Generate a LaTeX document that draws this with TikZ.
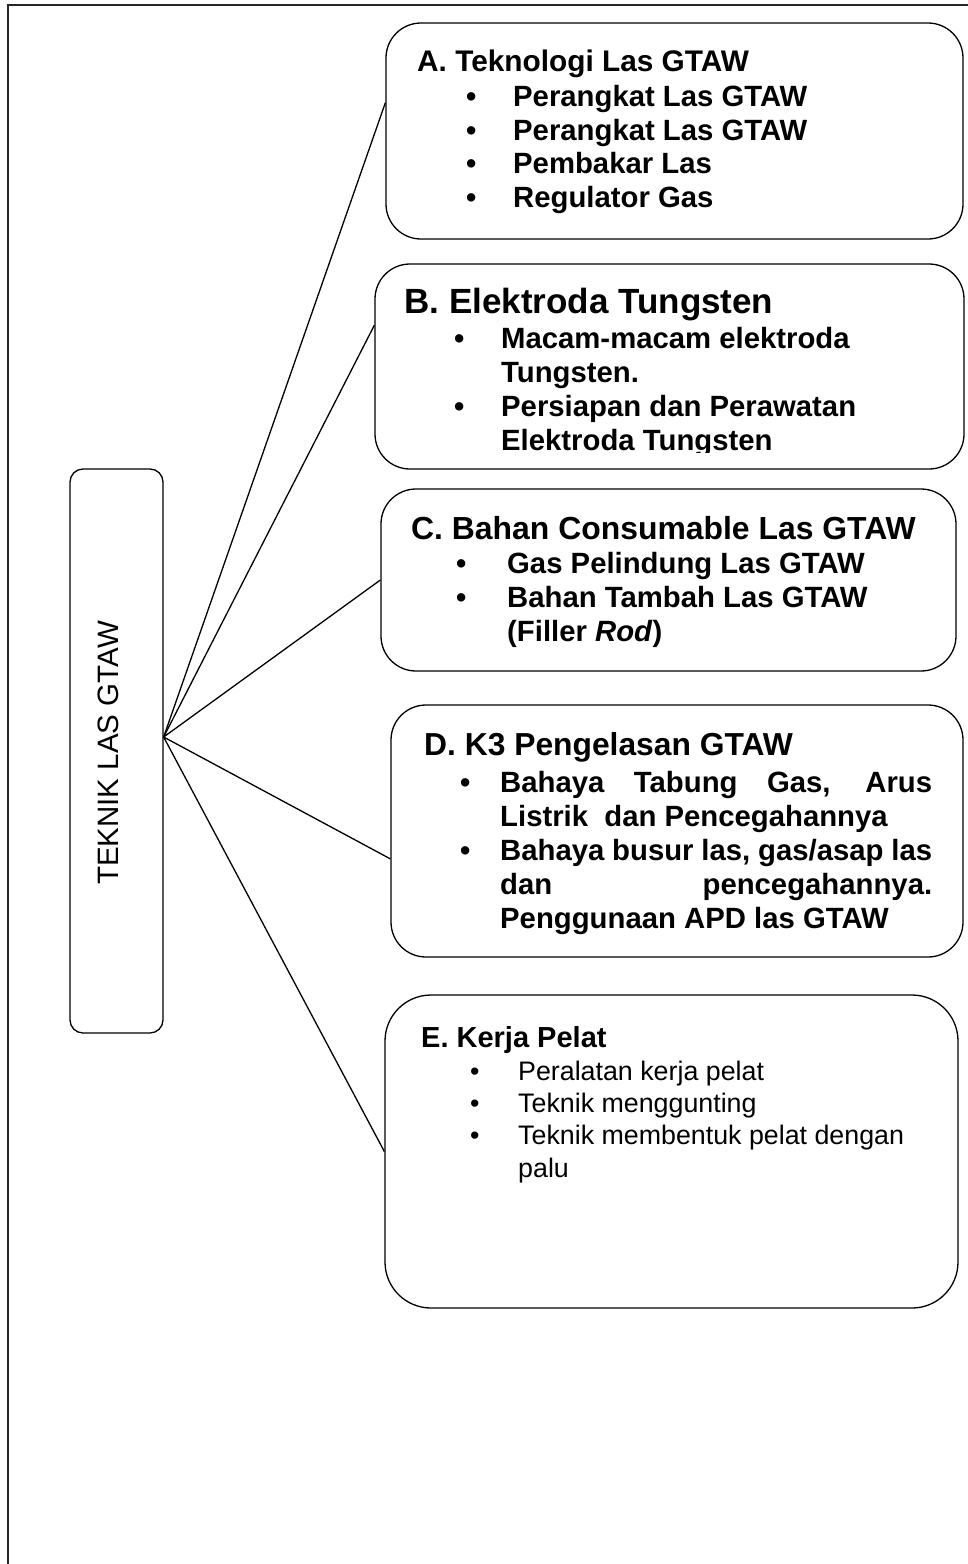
\documentclass[tikz,border=0pt]{standalone}
\usepackage{fontspec}
\setmainfont{Liberation Sans}
\usepackage{tikz}
\usetikzlibrary{calc}
\tikzset{
    frame line/.style={line width=1.1pt, black!85},
    topic box/.style={rectangle, draw, line width=1.3pt, rounded corners=35pt, inner sep=0pt},
    main box/.style={rectangle, draw, line width=1.3pt, rounded corners=13pt, inner sep=0pt},
    branch/.style={line width=1.3pt},
    heading text/.style={anchor=base west, inner sep=0pt, font=\bfseries\fontsize{#1}{#1}\selectfont},
    heading text/.default=29,
    % list nodes are placed at the baseline of their last line
    item text/.style={anchor=base west, inner sep=0pt, align=left, font=\bfseries\fontsize{29.3}{33.8}\selectfont},
    plain item text/.style={anchor=base west, inner sep=0pt, align=left, font=\fontsize{26.8}{32.3}\selectfont}
}
\newcommand{\titik}[1][47pt]{\makebox[#1][l]{\textbullet}}

\begin{document}
\begin{tikzpicture}[x=1pt, y=-1pt]
    \useasboundingbox (0,0) rectangle (968,1564);
    % page frame (open to the right and bottom)
    \draw[frame line] (990,5) -- (8,5) -- (8,1600);

    % main topic
    \node[main box, minimum width=93pt, minimum height=564pt] (tema) at (116.5,751) {};
    \node[rotate=90, inner sep=0pt, font=\fontsize{29.5}{29.5}\selectfont] (judul) at (108,753) {TEKNIK LAS GTAW};
    \coordinate (hub) at ([yshift=14pt]tema.east);

    % sub topic boxes
    \node[topic box, minimum width=577pt, minimum height=216pt] (boxA) at (674.5,131) {};
    \node[topic box, minimum width=589pt, minimum height=205pt] (boxB) at (669.5,366.5) {};
    \node[topic box, minimum width=575pt, minimum height=182pt] (boxC) at (668.5,580) {};
    \node[topic box, minimum width=572pt, minimum height=252pt] (boxD) at (677,831) {};
    \node[topic box, rounded corners=46pt, minimum width=573pt, minimum height=313pt] (boxE) at (671.5,1151.5) {};

    % branches from the main topic
    \draw[branch] (hub) -- ($(boxA.north west)!0.37!(boxA.south west)$);
    \draw[branch] (hub) -- ($(boxB.north west)!0.3!(boxB.south west)$);
    \draw[branch] (hub) -- ($(boxC.north west)!0.5!(boxC.south west)$);
    \draw[branch] (hub) -- ($(boxD.north west)!0.61!(boxD.south west)$);
    \draw[branch] (hub) -- (boxE.west);

    % A
    \node[heading text=29.8] (judulA) at (417,71) {A. Teknologi Las GTAW};
    \node[item text, font=\bfseries\fontsize{29.3}{33.5}\selectfont] (isiA) at (466,207) {\titik Perangkat Las GTAW\\ \titik Perangkat Las GTAW\\ \titik Pembakar Las\\ \titik Regulator Gas};

    % B (last line cut by the box)
    \node[heading text=35] (judulB) at (404,313) {\makebox[45pt][l]{B.}Elektroda Tungsten};
    \begin{scope}
        \clip (0,0) rectangle (968,452);
        \node[item text] (isiB) at (454,450) {\titik Macam-macam elektroda\\ \hspace*{47pt}Tungsten.\\ \titik Persiapan dan Perawatan\\ \hspace*{47pt}Elektroda Tungsten};
    \end{scope}

    % C
    \node[heading text=31.9] (judulC) at (411,539) {C. Bahan Consumable Las GTAW};
    \node[item text] (isiC) at (456,641) {\titik[51pt]Gas Pelindung Las GTAW\\ \titik[51pt]Bahan Tambah Las GTAW\\ \hspace*{51pt}(Filler \textit{Rod})};

    % D
    \node[heading text=31.8] (judulD) at (424,755) {D. K3 Pengelasan GTAW};
    \node[item text] (isiD) at (460,928) {\titik[40pt]\makebox[432pt][s]{Bahaya Tabung Gas, Arus}\\
        \hspace*{40pt}Listrik\ \ dan Pencegahannya\\
        \titik[40pt]\makebox[432pt][s]{Bahaya busur las, gas/asap las}\\
        \hspace*{40pt}\makebox[432pt][s]{dan pencegahannya.}\\
        \hspace*{40pt}Penggunaan APD las GTAW};

    % E
    \node[heading text=29] (judulE) at (421,1047) {E. Kerja Pelat};
    \node[plain item text] (isiE) at (470,1177) {\titik[48pt]Peralatan kerja pelat\\ \titik[48pt]Teknik menggunting\\ \titik[48pt]Teknik membentuk pelat dengan\\ \hspace*{48pt}palu};
\end{tikzpicture}
\end{document}
